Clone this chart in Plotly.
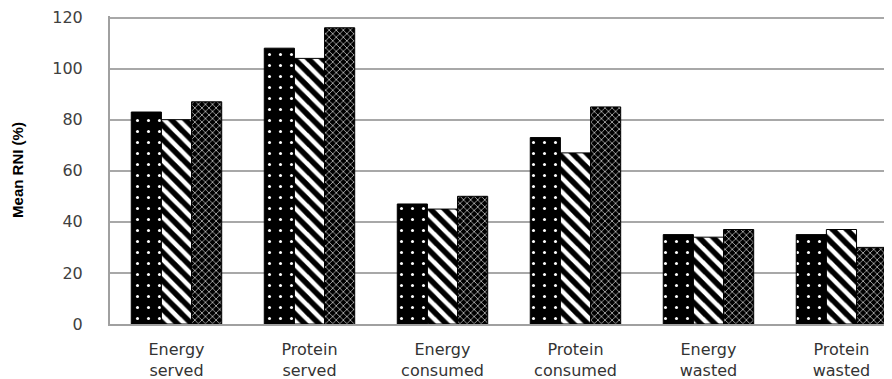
import plotly.graph_objects as go

categories = ["Energy<br>served", "Protein<br>served", "Energy<br>consumed",
              "Protein<br>consumed", "Energy<br>wasted", "Protein<br>wasted"]
series_a = [83, 108, 47, 73, 35, 35]
series_b = [80, 104, 45, 67, 34, 37]
series_c = [87, 116, 50, 85, 37, 30]
y_ticks = [0, 20, 40, 60, 80, 100, 120]

patterns = [
    dict(shape=".", bgcolor="black", fgcolor="white", fgopacity=1, size=11, solidity=0.06, fillmode="overlay"),
    dict(shape="\\", bgcolor="white", fgcolor="black", fgopacity=1, size=10, solidity=0.55, fillmode="overlay"),
    dict(shape="x", bgcolor="black", fgcolor="white", fgopacity=1, size=5, solidity=0.22, fillmode="overlay"),
]
colors = ["black", "white", "black"]

fig = go.Figure()
for vals, pat, col in zip([series_a, series_b, series_c], patterns, colors):
    fig.add_trace(go.Bar(
        x=list(range(len(categories))), y=vals,
        marker=dict(color=col, pattern=pat, line=dict(color="black", width=1)),
        showlegend=False,
    ))

fig.update_layout(
    width=884, height=371,
    margin=dict(l=102, r=0, t=8, b=55),
    paper_bgcolor="white", plot_bgcolor="white",
    barmode="group", bargap=0.32, bargroupgap=0,
    font=dict(family="DejaVu Sans", color="#404040"),
    xaxis=dict(
        range=[-0.5, 5.38], tickmode="array",
        tickvals=list(range(len(categories))), ticktext=categories,
        showgrid=False, showline=True, linecolor="#a0a0a0", linewidth=2,
        tickfont=dict(family="DejaVu Sans", size=16, color="#333333"),
        ticks="", ticklabelstandoff=10, zeroline=False,
    ),
    yaxis=dict(
        range=[0, 120.6], tickmode="array", tickvals=y_ticks,
        showgrid=True, gridcolor="#a8a8a8", gridwidth=1.5,
        showline=True, linecolor="#a0a0a0", linewidth=2,
        tickfont=dict(family="DejaVu Sans", size=16, color="#404040"),
        ticks="", ticklabelstandoff=22, ticklabeloverflow="allow", zeroline=False,
    ),
    annotations=[dict(
        text="<b>Mean RNI (%)</b>", xref="paper", yref="paper",
        x=-0.119, y=0.5, xanchor="center", yanchor="middle",
        textangle=-90, showarrow=False,
        font=dict(family="Liberation Sans Narrow, Arial Narrow, Liberation Sans", size=15, color="black"),
    )],
)

fig.write_html("out.html")
